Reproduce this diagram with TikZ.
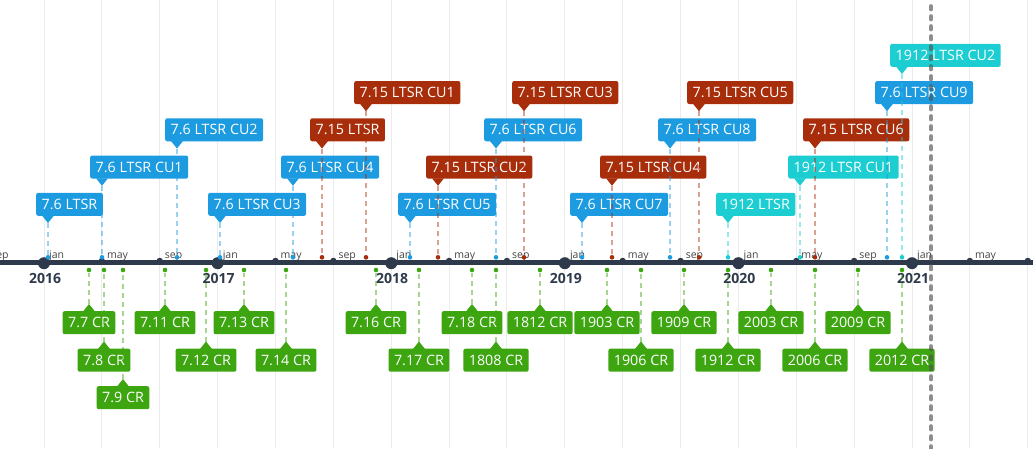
\documentclass[tikz,border=0pt]{standalone}
\usepackage{fontspec}
\setmainfont{Open Sans}
\definecolor{cblue}{HTML}{1C9BE1}
\definecolor{cred}{HTML}{A82E0B}
\definecolor{ccyan}{HTML}{1CCED1}
\definecolor{cgreen}{HTML}{3CA510}
\definecolor{caxis}{HTML}{2E3A4B}
\definecolor{cgrid}{HTML}{EBEBEB}
\definecolor{cmonth}{HTML}{444444}
\tikzset{
  evbox/.style={rounded corners=2pt, inner xsep=5.5pt, inner ysep=6.5pt,
    text height=10pt, text depth=0pt, text=white,
    font=\fontsize{14.3}{16}\selectfont},
  evdot/.style={circle, inner sep=0pt, minimum size=4.6pt},
  conn/.style={line width=2pt, dash pattern=on 5pt off 4pt, draw opacity=0.45},
  gridline/.style={cgrid, line width=1pt},
  axisline/.style={caxis, line width=5.3pt},
  yeardot/.style={circle, fill=caxis, inner sep=0pt, minimum size=12pt},
  monthdot/.style={circle, fill=caxis, inner sep=0pt, minimum size=6.5pt},
  monthlabel/.style={text=cmonth, inner sep=0pt, font=\fontsize{10.5}{12}\selectfont},
  yearlabel/.style={text=caxis, inner sep=0pt, font=\fontsize{14}{16}\selectfont\bfseries},
  todayline/.style={draw=black!68, draw opacity=0.65, line width=3.6pt,
    dash pattern=on 3.5pt off 6.5pt, line cap=round}
}
\begin{document}
\begin{tikzpicture}[x=1pt,y=-1pt]
\useasboundingbox (0,0) rectangle (1033,448);
\begin{scope}
\clip (0,0) rectangle (1033,448);
% grid lines
\foreach \k in {-4,0,...,72} {
  \pgfmathsetmacro\gx{44+14.467*\k}
  \draw[gridline] (\gx,0) -- (\gx,448);
}
% axis
\draw[axisline] (-5,262.7) -- (1040,262.7);
% month markers
\foreach \k/\mn in {-4/sep,4/may,8/sep,16/may,20/sep,28/may,32/sep,40/may,44/sep,52/may,56/sep,64/may} {
  \pgfmathsetmacro\gx{44+14.467*\k}
  \node[monthdot] (md\k) at (\gx,261) {};
  \node[monthlabel, anchor=base west] (ml\k) at (\gx+5,258.5) {\mn};
}
\node[monthdot] (md68) at (1027.8,261) {};
\foreach \k/\yr in {0/2016,12/2017,24/2018,36/2019,48/2020,60/2021} {
  \pgfmathsetmacro\gx{44+14.467*\k}
  \node[yeardot] (yd\k) at (\gx,263.2) {};
  \node[monthlabel, anchor=base west] (yl\k) at (\gx+5,258.5) {jan};
  \node[yearlabel, anchor=base] (yt\k) at (\gx+1,283) {\yr};
}
% top events
\foreach \nm/\xx/\rw/\cl/\tx in {
 a/48/1/cblue/7.6 LTSR,
 b/102/2/cblue/7.6 LTSR CU1,
 c/177/3/cblue/7.6 LTSR CU2,
 d/220/1/cblue/7.6 LTSR CU3,
 e/293/2/cblue/7.6 LTSR CU4,
 f/322/3/cred/7.15 LTSR,
 g/366/4/cred/7.15 LTSR CU1,
 h/410/1/cblue/7.6 LTSR CU5,
 i/438/2/cred/7.15 LTSR CU2,
 j/496/3/cblue/7.6 LTSR CU6,
 k/524/4/cred/7.15 LTSR CU3,
 l/582/1/cblue/7.6 LTSR CU7,
 m/612/2/cred/7.15 LTSR CU4,
 n/670/3/cblue/7.6 LTSR CU8,
 o/699/4/cred/7.15 LTSR CU5,
 p/728/1/ccyan/1912 LTSR,
 q/800/2/ccyan/1912 LTSR CU1,
 r/815/3/cred/7.15 LTSR CU6,
 s/887/4/cblue/7.6 LTSR CU9,
 t/902/5/ccyan/1912 LTSR CU2} {
  \pgfmathsetmacro\yb{216-37.25*(\rw-1)}
  \node[evdot, fill=\cl] (\nm-d) at (\xx,257.3) {};
  \node[evbox, fill=\cl, anchor=south west] (\nm) at (\xx-12,\yb) {\tx};
  \fill[\cl] (\xx-6,\yb-0.5) -- (\xx,\yb+7) -- (\xx+6,\yb-0.5) -- cycle;
  \coordinate (\nm-t) at (\xx,\yb+7);
}
% bottom events
\foreach \nm/\xx/\rw/\tx in {
 cr77/89/1/7.7 CR, cr78/104/2/7.8 CR, cr79/123/3/7.9 CR,
 cr711/165/1/7.11 CR, cr712/206/2/7.12 CR, cr713/244/1/7.13 CR,
 cr714/286/2/7.14 CR, cr716/376/1/7.16 CR, cr717/419/2/7.17 CR,
 cr718/472/1/7.18 CR, cr1808/496/2/1808 CR, cr1812/540/1/1812 CR,
 cr1903/607/1/1903 CR, cr1906/641/2/1906 CR, cr1909/684/1/1909 CR,
 cr1912/728/2/1912 CR, cr2003/771/1/2003 CR, cr2006/815/2/2006 CR,
 cr2009/858/1/2009 CR, cr2012/902/2/2012 CR} {
  \pgfmathsetmacro\yt{311+37.5*(\rw-1)}
  \node[evdot, fill=cgreen] (\nm-d) at (\xx,270) {};
  \node[evbox, fill=cgreen, anchor=north] (\nm) at (\xx,\yt) {\tx};
  \fill[cgreen] (\xx-6,\yt+0.5) -- (\xx,\yt-7) -- (\xx+6,\yt+0.5) -- cycle;
  \coordinate (\nm-t) at (\xx,\yt-7);
}
% connectors
\foreach \nm/\cl in {a/cblue,b/cblue,c/cblue,d/cblue,e/cblue,f/cred,g/cred,
  h/cblue,i/cred,j/cblue,k/cred,l/cblue,m/cred,n/cblue,o/cred,p/ccyan,
  q/ccyan,r/cred,s/cblue,t/ccyan} {
  \draw[conn, \cl] (\nm-t) -- (\nm-d);
}
\foreach \nm in {cr77,cr78,cr79,cr711,cr712,cr713,cr714,cr716,cr717,cr718,
  cr1808,cr1812,cr1903,cr1906,cr1909,cr1912,cr2003,cr2006,cr2009,cr2012} {
  \draw[conn, cgreen] (\nm-t) -- (\nm-d);
}
% today line
\coordinate (today-top) at (931,6);
\coordinate (today-bot) at (931,450);
\draw[todayline] (today-top) -- (today-bot);
\end{scope}
\end{tikzpicture}
\end{document}
